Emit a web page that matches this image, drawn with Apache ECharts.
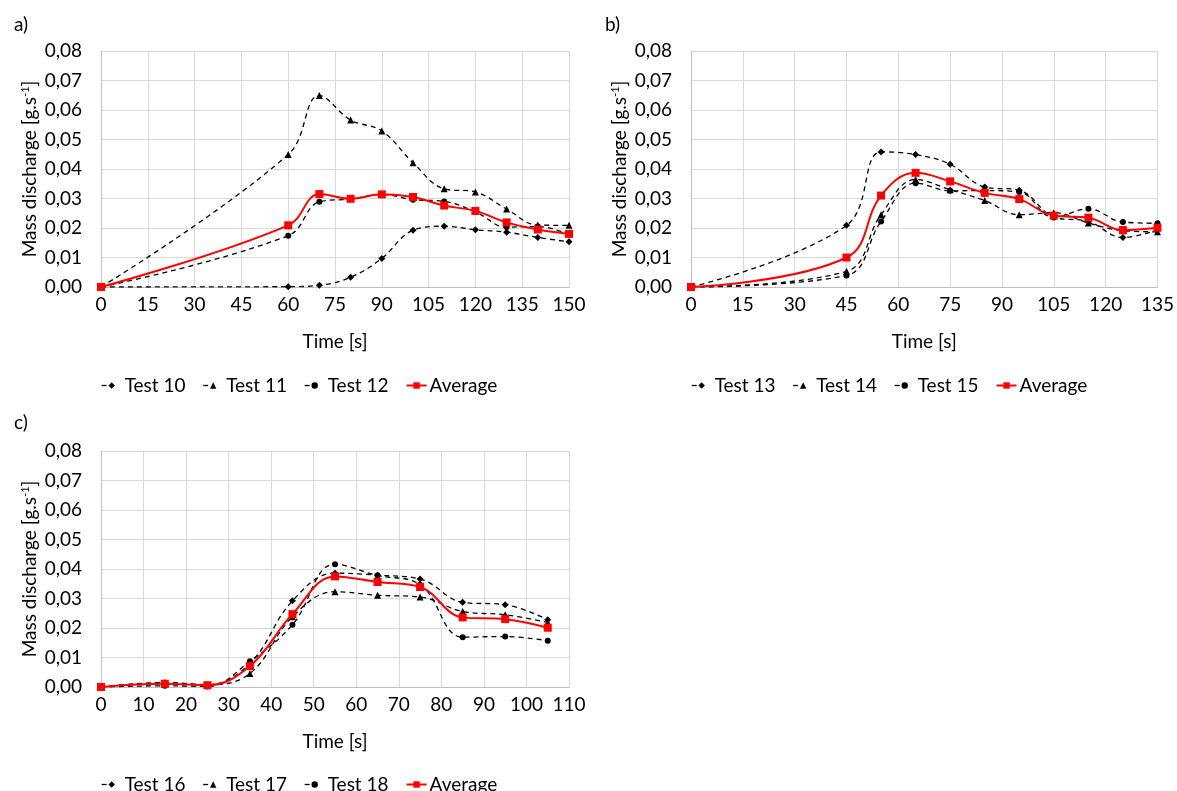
<!DOCTYPE html>
<html>
<head>
<meta charset="utf-8">
<script src="https://cdn.jsdelivr.net/npm/echarts@6/dist/echarts.min.js"></script>
<style>
  html, body { margin: 0; padding: 0; background: #fff; }
  #chart { width: 1177px; height: 791px; }
</style>
</head>
<body>
<div id="chart"></div>
<script>
// Panel a) — tests 10–12
const timeA = [0, 60, 70, 80, 90, 100, 110, 120, 130, 140, 150];
const test10 = [0, 0.0001, 0.0006, 0.0033, 0.0097, 0.0192, 0.0206, 0.0194, 0.0186, 0.0168, 0.0153];
const test11 = [0, 0.0449, 0.0649, 0.0566, 0.0529, 0.0421, 0.0333, 0.0322, 0.0264, 0.0210, 0.0209];
const test12 = [0, 0.0174, 0.0289, 0.0298, 0.0314, 0.0296, 0.0290, 0.0255, 0.0203, 0.0205, 0.0178];
const avgA   = [0, 0.0209, 0.0315, 0.0299, 0.0314, 0.0305, 0.0276, 0.0258, 0.0219, 0.0195, 0.0180];

// Panel b) — tests 13–15
const timeB = [0, 45, 55, 65, 75, 85, 95, 105, 115, 125, 135];
const test13 = [0, 0.0209, 0.0458, 0.0449, 0.0416, 0.0339, 0.0328, 0.0238, 0.0222, 0.0168, 0.0194];
const test14 = [0, 0.0053, 0.0245, 0.0364, 0.0330, 0.0293, 0.0245, 0.0252, 0.0217, 0.0191, 0.0187];
const test15 = [0, 0.0039, 0.0222, 0.0352, 0.0326, 0.0327, 0.0322, 0.0236, 0.0265, 0.0220, 0.0216];
const avgB   = [0, 0.0100, 0.0310, 0.0387, 0.0358, 0.0319, 0.0298, 0.0242, 0.0235, 0.0193, 0.0201];

// Panel c) — tests 16–18
const timeC = [0, 15, 25, 35, 45, 55, 65, 75, 85, 95, 105];
const test16 = [0, 0.0013, 0.0008, 0.0080, 0.0292, 0.0386, 0.0379, 0.0366, 0.0287, 0.0279, 0.0228];
const test17 = [0, 0.0015, 0.0008, 0.0046, 0.0238, 0.0323, 0.0311, 0.0305, 0.0256, 0.0245, 0.0219];
const test18 = [0, 0.0004, 0.0002, 0.0087, 0.0211, 0.0416, 0.0378, 0.0347, 0.0169, 0.0171, 0.0157];
const avgC   = [0, 0.0011, 0.0006, 0.0071, 0.0247, 0.0375, 0.0356, 0.0339, 0.0236, 0.0230, 0.0201];

const panelLetters = ['a)', 'b)', 'c)'];
const legendNames = [
  ['Test 10', 'Test 11', 'Test 12', 'Average'],
  ['Test 13', 'Test 14', 'Test 15', 'Average'],
  ['Test 16', 'Test 17', 'Test 18', 'Average']
];
const yName = 'Mass discharge [g.s{sup|-1}]';
const xName = 'Time [s]';

const FONT = 'Lato, "Open Sans", sans-serif';
const FS = 19;
const GRID_COLOR = '#d9d9d9';
const AXIS_COLOR = '#bfbfbf';

const zip = (xs, ys) => xs.map((x, i) => [x, ys[i]]);

const panels = [
  { time: timeA, tests: [test10, test11, test12], avg: avgA, xMax: 150, xInt: 15,
    grid: { left: 101, top: 51, width: 468, height: 236 }, legendTop: 371 },
  { time: timeB, tests: [test13, test14, test15], avg: avgB, xMax: 135, xInt: 15,
    grid: { left: 691, top: 51, width: 468, height: 236 }, legendTop: 371 },
  { time: timeC, tests: [test16, test17, test18], avg: avgC, xMax: 110, xInt: 10,
    grid: { left: 101, top: 451, width: 468, height: 236 }, legendTop: 770 }
];

const testSymbols = ['diamond', 'triangle', 'circle'];
const testSymbolSizes = [7, 7, 6];
const SMOOTH = 0.4;

const grids = [], xAxes = [], yAxes = [], series = [], legends = [];

panels.forEach((p, k) => {
  grids.push(Object.assign({ containLabel: false }, p.grid));
  xAxes.push({
    type: 'value', gridIndex: k, min: 0, max: p.xMax, interval: p.xInt,
    name: xName, nameLocation: 'middle', nameGap: 45,
    nameTextStyle: { fontFamily: FONT, fontSize: FS, color: '#000' },
    axisLine: { show: true, lineStyle: { color: AXIS_COLOR, width: 1 } },
    axisTick: { show: false },
    axisLabel: { fontFamily: FONT, fontSize: FS, color: '#000', margin: 8 },
    splitLine: { show: true, lineStyle: { color: GRID_COLOR, width: 1 } }
  });
  yAxes.push({
    type: 'value', gridIndex: k, min: 0, max: 0.08, interval: 0.01,
    name: yName, nameLocation: 'middle', nameGap: 62, nameRotate: 90,
    nameTextStyle: {
      fontFamily: FONT, fontSize: FS, color: '#000',
      rich: { sup: { fontFamily: FONT, fontSize: 11, color: '#000', verticalAlign: 'top', padding: [0, 0, 7, 0] } }
    },
    axisLine: { show: true, lineStyle: { color: AXIS_COLOR, width: 1 } },
    axisTick: { show: false },
    axisLabel: {
      fontFamily: FONT, fontSize: FS, color: '#000', margin: 19,
      formatter: v => v.toFixed(2).replace('.', ',')
    },
    splitLine: { show: true, lineStyle: { color: GRID_COLOR, width: 1 } }
  });

  p.tests.forEach((vals, j) => {
    series.push({
      name: legendNames[k][j], type: 'line', xAxisIndex: k, yAxisIndex: k,
      data: zip(p.time, vals), smooth: SMOOTH,
      symbol: testSymbols[j], symbolSize: testSymbolSizes[j], showSymbol: true,
      itemStyle: { color: '#000' },
      lineStyle: { color: '#000', width: 1.3, type: [5, 4] },
      z: 2, animation: false
    });
  });
  series.push({
    name: legendNames[k][3], type: 'line', xAxisIndex: k, yAxisIndex: k,
    data: zip(p.time, p.avg), smooth: SMOOTH,
    symbol: 'rect', symbolSize: 8, showSymbol: true,
    itemStyle: { color: '#ff0000' },
    lineStyle: { color: '#ff0000', width: 2 },
    z: 3, animation: false
  });

  legends.push({
    data: legendNames[k].map((n, j) => j < 3
      ? { name: n, lineStyle: { type: [5, 30], width: 1.3 } }
      : { name: n }),
    left: p.grid.left - 5, top: p.legendTop,
    itemWidth: 20, itemHeight: 8, itemGap: 17,
    textStyle: { fontFamily: FONT, fontSize: FS, color: '#000', padding: [0, 0, 0, -2] },
    selectedMode: false
  });
});

const titleStyle = { fontFamily: FONT, fontSize: FS, fontWeight: 'normal', color: '#000' };
const titles = [
  { text: panelLetters[0], left: 9, top: 10, textStyle: titleStyle },
  { text: panelLetters[1], left: 600, top: 10, textStyle: titleStyle },
  { text: panelLetters[2], left: 9, top: 408, textStyle: titleStyle }
];

const chart = echarts.init(document.getElementById('chart'), null, { renderer: 'canvas' });
chart.setOption({
  backgroundColor: '#fff',
  animation: false,
  title: titles,
  grid: grids,
  xAxis: xAxes,
  yAxis: yAxes,
  legend: legends,
  series: series
});
</script>
</body>
</html>
